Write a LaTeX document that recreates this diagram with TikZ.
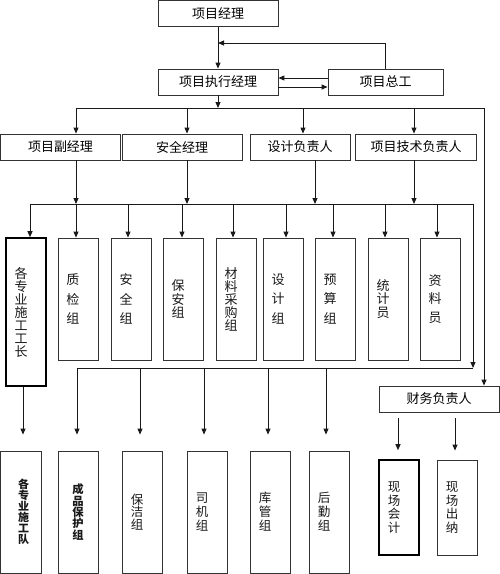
\documentclass[tikz,border=0pt]{standalone}
\usepackage{fontspec}
\setmainfont{Noto Sans CJK SC}
\usetikzlibrary{arrows.meta}
\newcommand\vlab[5]{\node[vtext,font=\fontsize{#3}{#4}\selectfont] (#1t) at ([xshift=#2]#1.center) {#5};}
\begin{document}
\begin{tikzpicture}[x=1pt,y=-1pt,
  box/.style={draw=black!80, line width=0.8pt, inner sep=0pt, fill=white},
  hbox/.style={box, minimum height=26, font=\fontsize{13}{13}\selectfont},
  vbox/.style={box, minimum width=40},
  vtext/.style={align=center, inner sep=0pt, text=black!90},
  arr/.style={line width=1pt, draw=black!90, -{Triangle[length=6pt,width=5pt]}},
  ln/.style={line width=1pt, draw=black!90},
  thickbox/.style={line width=1.6pt, draw=black}
]
\useasboundingbox (0,0) rectangle (500,574);
% top
\node[hbox, minimum width=120] (pm) at (218,13.5) {项目经理};
\node[hbox, minimum width=120] (exec) at (218,82) {项目执行经理};
\node[hbox, minimum width=115] (zg) at (385.5,82) {项目总工};
% row 2
\node[hbox, minimum width=120] (fz) at (60.5,147) {项目副经理};
\node[hbox, minimum width=120] (aq) at (182,147) {安全经理};
\node[hbox, minimum width=100] (sj) at (300,147) {设计负责人};
\node[hbox, minimum width=121] (js) at (416,147) {项目技术负责人};
\node[hbox, minimum width=120] (cw) at (439,399) {财务负责人};
% row 3
\node[vbox, thickbox, minimum height=148] (gz) at (26,312) {};
\node[vbox, minimum height=122] (zj) at (78,299) {};
\node[vbox, minimum height=122] (aqz) at (131,299) {};
\node[vbox, minimum height=122] (ba) at (183,299) {};
\node[vbox, minimum height=122] (cl) at (236,299) {};
\node[vbox, minimum height=122] (sjz) at (283,299) {};
\node[vbox, minimum height=122] (ys) at (335,299) {};
\node[vbox, minimum height=122] (tj) at (388,299) {};
\node[vbox, minimum height=122] (zl) at (440,299) {};
\vlab{gz}{-5pt}{13}{13}{各\\专\\业\\施\\工\\工\\长}
\vlab{zj}{-5pt}{13}{19.5}{质\\检\\组}
\vlab{aqz}{-5pt}{13}{19.5}{安\\全\\组}
\vlab{ba}{-5pt}{13}{13.5}{保\\安\\组}
\vlab{cl}{-5pt}{13}{13}{材\\料\\采\\购\\组}
\vlab{sjz}{-5pt}{13}{19.5}{设\\计\\组}
\vlab{ys}{-5pt}{13}{19.5}{预\\算\\组}
\vlab{tj}{-5pt}{13}{13.5}{统\\计\\员}
\vlab{zl}{-5pt}{13}{18.5}{资\\料\\员}
% row 4
\node[vbox, minimum width=41, minimum height=122] (dui) at (20.5,512) {};
\node[vbox, minimum height=122] (cp) at (78,512) {};
\node[vbox, minimum height=122] (bj) at (142,512) {};
\node[vbox, minimum height=122] (sj2) at (207,512) {};
\node[vbox, minimum height=122] (kg) at (270,512) {};
\node[vbox, minimum height=122] (hq) at (329,512) {};
\node[vbox, thickbox, minimum height=95] (kj) at (399,507.5) {};
\node[vbox, minimum height=95] (cn) at (457,507.5) {};
\vlab{dui}{3pt}{11}{11}{\bfseries 各\\\bfseries 专\\\bfseries 业\\\bfseries 施\\\bfseries 工\\\bfseries 队}
\vlab{cp}{0pt}{11.3}{11.3}{\bfseries 成\\\bfseries 品\\\bfseries 保\\\bfseries 护\\\bfseries 组}
\vlab{bj}{-5pt}{12.5}{12.5}{保\\洁\\组}
\vlab{sj2}{-5pt}{12.5}{14}{司\\机\\组}
\vlab{kg}{-5pt}{12.5}{14}{库\\管\\组}
\vlab{hq}{-5pt}{12.5}{14}{后\\勤\\组}
\vlab{kj}{-5pt}{12.5}{13.7}{现\\场\\会\\计}
\vlab{cn}{-5pt}{12.5}{13.7}{现\\场\\出\\纳}
% connectors top
\coordinate (j1) at (218,43);
\draw[arr] (pm) -- (exec);
\draw[arr] (zg.north) |- (j1);
\draw[arr] (zg.west |- 0,78) -- (exec.east |- 0,78);
\draw[arr] (exec.east |- 0,87) -- (zg.west |- 0,87);
\coordinate (b1) at (218,108);
\draw[arr] (exec) -- (b1);
\draw[arr] (b1 -| 76,0) -- (b1 -| 484,0) -- (cw.north -| 484,0);
\foreach \x/\n in {76/fz,187/aq,303/sj,414/js}
  \draw[arr] (b1 -| \x,0) -- (\n.north -| \x,0);
% bus 2
\coordinate (b2) at (30,204);
\foreach \x/\n in {76/fz,187/aq,315/sj,414/js}
  \draw[arr] (\n.south -| \x,0) -- (b2 -| \x,0);
\draw[ln] (b2) -- (b2 -| 473,0);
\foreach \x/\n in {30/gz,76/zj,128/aqz,182/ba,233/cl,286/sjz,333/ys,385/tj,437/zl}
  \draw[arr] (b2 -| \x,0) -- (\n.north -| \x,0);
% bus 3
\coordinate (b3) at (77,368);
\draw[arr] (b2 -| 473,0) -- (b3 -| 473,0);
\draw[ln] (b3) -- (b3 -| 473,0);
\foreach \x/\n in {77/cp,140/bj,204/sj2,268/kg,326/hq}
  \draw[arr, shorten >=16pt] (b3 -| \x,0) -- (\n.north -| \x,0);
\draw[arr, shorten >=16pt] (gz.south -| 23,0) -- (dui.north -| 23,0);
% finance
\draw[arr, shorten <=6pt, shorten >=9pt] (cw.south -| 398,0) -- (kj.north -| 398,0);
\draw[arr, shorten <=6pt, shorten >=9pt] (cw.south -| 455,0) -- (cn.north -| 455,0);
\end{tikzpicture}
\end{document}
